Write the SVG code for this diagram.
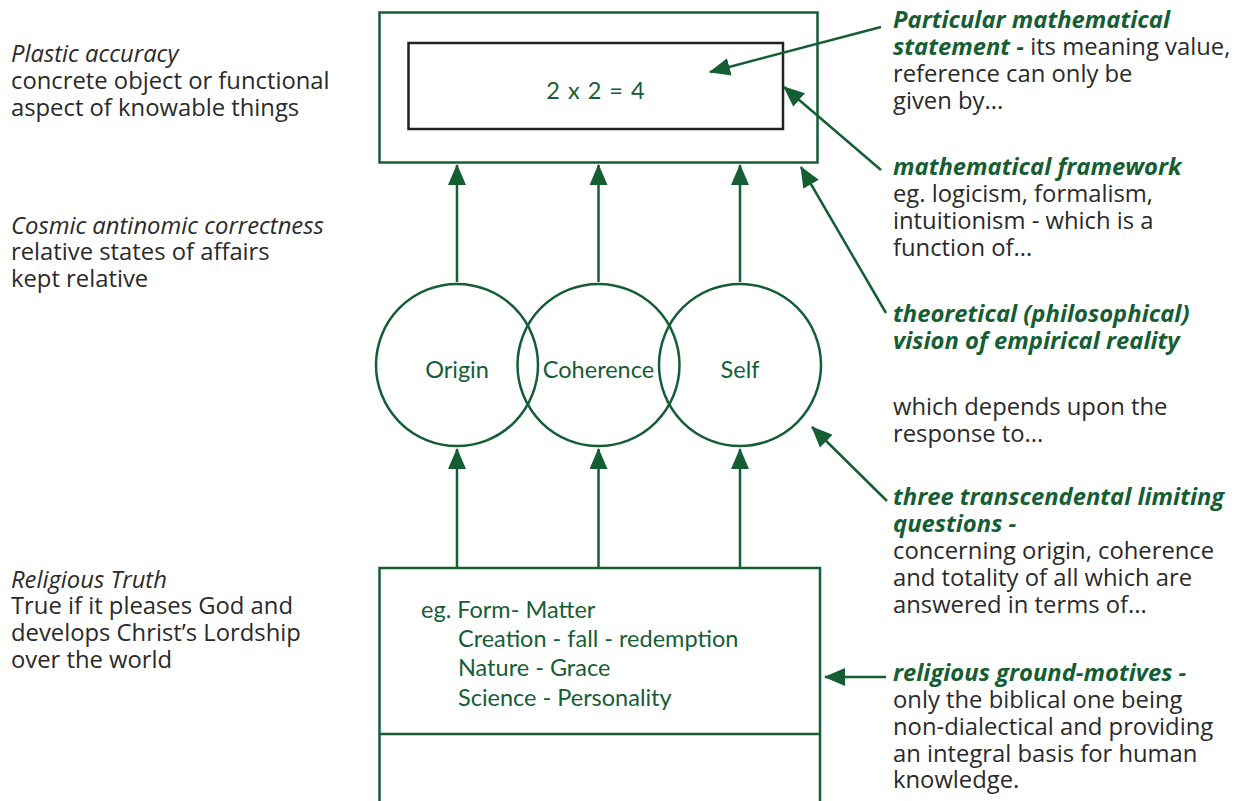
<svg xmlns="http://www.w3.org/2000/svg" width="1248" height="801" viewBox="0 0 1248 801">
<style>
.g{fill:none;stroke:#155e34;stroke-width:2.5}
.c{stroke:#155e34;stroke-width:2.5;fill:none}
.in{font-family:Lato,"Liberation Sans",sans-serif;fill:#155e34;font-size:23.5px}
.n{font-family:"Open Sans","Liberation Sans",sans-serif;font-size:23.8px;fill:#2a2a2a}
.b{font-weight:bold;font-style:italic;fill:#155e34}
.i{font-style:italic}
</style>
<defs>
<marker id="ah" markerUnits="userSpaceOnUse" markerWidth="22" markerHeight="20" viewBox="0 0 22 20" refX="20" refY="10" orient="auto">
<path d="M0,1 L21,10 L0,19 Z" fill="#155e34"/>
</marker>
</defs>
<rect width="1248" height="801" fill="#fff"/>
<g id="node-top">
<rect class="g" x="379.5" y="12.5" width="438" height="150"/>
<rect x="408.5" y="43" width="374.5" height="86" fill="none" stroke="#222" stroke-width="2.5"/>
<text class="in" x="595.5" y="99" text-anchor="middle" font-size="29" word-spacing="2">2 x 2 = 4</text>
</g>
<g id="node-origin">
<circle class="g" cx="457" cy="365" r="81"/>
<text class="in" x="457" y="378" text-anchor="middle">Origin</text>
</g>
<g id="node-coherence">
<circle class="g" cx="598.5" cy="365" r="81"/>
<text class="in" x="598.5" y="378" text-anchor="middle">Coherence</text>
</g>
<g id="node-self">
<circle class="g" cx="740" cy="365" r="81"/>
<text class="in" x="740" y="378" text-anchor="middle">Self</text>
</g>
<g id="node-bottom">
<rect class="g" x="379.5" y="568" width="440.5" height="250"/>
<line class="g" x1="379.5" y1="734" x2="820" y2="734"/>
<text class="in" x="421" y="618">eg. Form- Matter</text>
<text class="in" x="458" y="647">Creation - fall - redemption</text>
<text class="in" x="458" y="676">Nature - Grace</text>
<text class="in" x="458" y="706">Science - Personality</text>
</g>
<g id="connectors">
<line class="c" x1="457" y1="282" x2="457" y2="165" marker-end="url(#ah)"/>
<line class="c" x1="598.5" y1="282" x2="598.5" y2="165" marker-end="url(#ah)"/>
<line class="c" x1="740" y1="282" x2="740" y2="165" marker-end="url(#ah)"/>
<line class="c" x1="457" y1="567" x2="457" y2="449" marker-end="url(#ah)"/>
<line class="c" x1="598.5" y1="567" x2="598.5" y2="449" marker-end="url(#ah)"/>
<line class="c" x1="740" y1="567" x2="740" y2="449" marker-end="url(#ah)"/>
<line class="c" x1="881" y1="27" x2="710" y2="72" marker-end="url(#ah)"/>
<line class="c" x1="881" y1="170" x2="784" y2="87" marker-end="url(#ah)"/>
<line class="c" x1="886" y1="313" x2="801" y2="167" marker-end="url(#ah)"/>
<line class="c" x1="887" y1="501" x2="812" y2="427" marker-end="url(#ah)"/>
<line class="c" x1="886" y1="677" x2="825" y2="677" marker-end="url(#ah)"/>
</g>
<g id="notes-left" class="n">
<text x="11" y="62" class="i">Plastic accuracy</text>
<text x="11" y="89">concrete object or functional</text>
<text x="11" y="116">aspect of knowable things</text>
<text x="11" y="234" class="i">Cosmic antinomic correctness</text>
<text x="11" y="260">relative states of affairs</text>
<text x="11" y="287">kept relative</text>
<text x="11" y="588" class="i">Religious Truth</text>
<text x="11" y="614">True if it pleases God and</text>
<text x="11" y="641">develops Christ’s Lordship</text>
<text x="11" y="668">over the world</text>
</g>
<g id="notes-right" class="n">
<text x="893" y="28" class="b">Particular mathematical</text>
<text x="893" y="55"><tspan class="b">statement -</tspan> its meaning value,</text>
<text x="893" y="82">reference can only be</text>
<text x="893" y="109">given by...</text>
<text x="893" y="175" class="b">mathematical framework</text>
<text x="893" y="202">eg. logicism, formalism,</text>
<text x="893" y="229">intuitionism - which is a</text>
<text x="893" y="256">function of...</text>
<text x="893" y="322" class="b">theoretical (philosophical)</text>
<text x="893" y="349" class="b">vision of empirical reality</text>
<text x="893" y="415">which depends upon the</text>
<text x="893" y="442">response to...</text>
<text x="893" y="505" class="b">three transcendental limiting</text>
<text x="893" y="532" class="b">questions -</text>
<text x="893" y="559">concerning origin, coherence</text>
<text x="893" y="586">and totality of all which are</text>
<text x="893" y="613">answered in terms of...</text>
<text x="893" y="681" class="b">religious ground-motives -</text>
<text x="893" y="708">only the biblical one being</text>
<text x="893" y="735">non-dialectical and providing</text>
<text x="893" y="762">an integral basis for human</text>
<text x="893" y="788">knowledge.</text>
</g>
</svg>
